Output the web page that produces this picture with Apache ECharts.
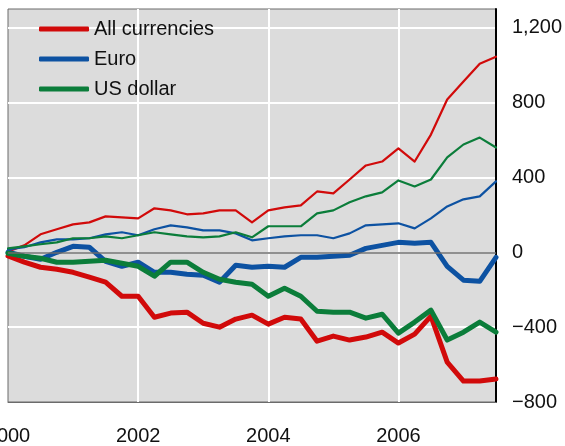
<!DOCTYPE html>
<html>
<head>
<meta charset="utf-8">
<script src="https://cdn.jsdelivr.net/npm/echarts@6/dist/echarts.min.js"></script>
<style>
    html, body { margin: 0; padding: 0; background: #fff; }
    #chart { width: 565px; height: 446px; }
</style>
</head>
<body>
<div id="chart"></div>
<script>
// quarterly, 2000 Q1 .. 2007 Q3
const quarters = [
    'Q1 2000', 'Q2 2000', 'Q3 2000', 'Q4 2000',
    'Q1 2001', 'Q2 2001', 'Q3 2001', 'Q4 2001',
    'Q1 2002', 'Q2 2002', 'Q3 2002', 'Q4 2002',
    'Q1 2003', 'Q2 2003', 'Q3 2003', 'Q4 2003',
    'Q1 2004', 'Q2 2004', 'Q3 2004', 'Q4 2004',
    'Q1 2005', 'Q2 2005', 'Q3 2005', 'Q4 2005',
    'Q1 2006', 'Q2 2006', 'Q3 2006', 'Q4 2006',
    'Q1 2007', 'Q2 2007', 'Q3 2007'
];

// thin lines (upper group)
const allThin = [5, 37, 96, 123, 149, 160, 192, 187, 181, 235, 224, 203, 208, 224, 224, 160,
    224, 240, 251, 325, 315, 389, 464, 485, 555, 485, 629, 816, 912, 1008, 1045];
const euroThin = [16, 27, 53, 69, 69, 75, 96, 107, 91, 123, 144, 133, 117, 117, 101, 64,
    75, 85, 91, 91, 75, 101, 144, 149, 155, 128, 181, 245, 283, 299, 379];
const usdThin = [21, 32, 43, 53, 75, 75, 85, 75, 91, 107, 96, 85, 80, 85, 107, 80,
    139, 139, 139, 208, 224, 267, 299, 320, 384, 352, 389, 507, 576, 613, 560];

// thick lines (lower group)
const allThick = [-20, -53, -80, -91, -107, -133, -160, -235, -235, -347, -325, -320, -379, -400, -357, -336,
    -384, -347, -357, -475, -448, -469, -453, -427, -485, -437, -341, -587, -688, -688, -677];
const euroThick = [0, -21, -37, 0, 32, 27, -48, -75, -53, -107, -107, -117, -123, -160, -69, -80,
    -75, -80, -27, -27, -21, -16, 21, 37, 53, 48, 53, -75, -149, -155, -27];
const usdThick = [-5, -21, -32, -53, -53, -48, -43, -59, -75, -128, -53, -53, -107, -144, -160, -171,
    -235, -192, -235, -315, -320, -320, -352, -331, -432, -373, -309, -469, -427, -373, -427];

const yTicks = [-800, -400, 0, 400, 800, 1200];

const RED = '#d10a0a';
const BLUE = '#0d52a2';
const GREEN = '#0b7d3a';
const FONT = 'Liberation Sans, Arial, sans-serif';

function line(name, data, color, width, extra) {
    return Object.assign({
        name: name,
        type: 'line',
        data: data,
        symbol: 'none',
        color: color,
        lineStyle: { color: color, width: width, cap: 'round', join: 'round' },
        animation: false,
    }, extra || {});
}

const chart = echarts.init(document.getElementById('chart'));
chart.setOption({
    backgroundColor: '#fff',
    textStyle: { fontFamily: FONT },
    grid: {
        left: 8, right: 69, top: 9, bottom: 44,
        show: true,
        backgroundColor: '#dcdcdc',
        borderColor: '#6b6b6b',
        borderWidth: 1,
        containLabel: false,
        outerBoundsMode: 'none',
    },
    legend: {
        data: ['All currencies', 'Euro', 'US dollar'],
        orient: 'vertical',
        left: 39, top: 19,
        padding: 0,
        itemWidth: 50, itemHeight: 5,
        itemGap: 10,
        icon: 'roundRect',
        textStyle: { fontSize: 20, color: '#111', fontFamily: FONT },
    },
    xAxis: {
        type: 'category',
        data: quarters,
        boundaryGap: false,
        axisLine: { onZero: false, lineStyle: { color: '#6b6b6b', width: 1 } },
        axisTick: { show: false },
        axisLabel: {
            interval: 7,
            margin: 24,
            fontSize: 20,
            color: '#111',
            formatter: v => v.startsWith('Q1') ? v.slice(3) : '',
        },
        splitLine: {
            show: true,
            interval: 7,
            showMinLine: false,
            lineStyle: { color: '#fff', width: 2 },
        },
    },
    yAxis: {
        type: 'value',
        position: 'right',
        min: yTicks[0],
        max: 1300,
        interval: 400,
        axisLine: { show: true, lineStyle: { color: '#000', width: 2 } },
        axisTick: { show: false },
        axisLabel: {
            margin: 16,
            fontSize: 20,
            color: '#111',
            showMaxLabel: false,
            formatter: v => yTicks.indexOf(v) < 0 ? '' :
                (v < 0 ? '\u2212' : '') + Math.abs(v).toLocaleString('en-US'),
        },
        splitLine: {
            show: true,
            showMinLine: false,
            showMaxLine: false,
            lineStyle: { color: '#fff', width: 2 },
        },
    },
    series: [
        line('All currencies (upper)', allThin, RED, 2.2, {
            markLine: {
                silent: true,
                symbol: 'none',
                label: { show: false },
                lineStyle: { color: '#6b6b6b', width: 1.5, type: 'solid' },
                data: [{ yAxis: 0 }],
                animation: false,
            },
        }),
        line('Euro (upper)', euroThin, BLUE, 2.2),
        line('US dollar (upper)', usdThin, GREEN, 2.2),
        line('All currencies', allThick, RED, 5),
        line('Euro', euroThick, BLUE, 5),
        line('US dollar', usdThick, GREEN, 5),
    ],
});
</script>
</body>
</html>
